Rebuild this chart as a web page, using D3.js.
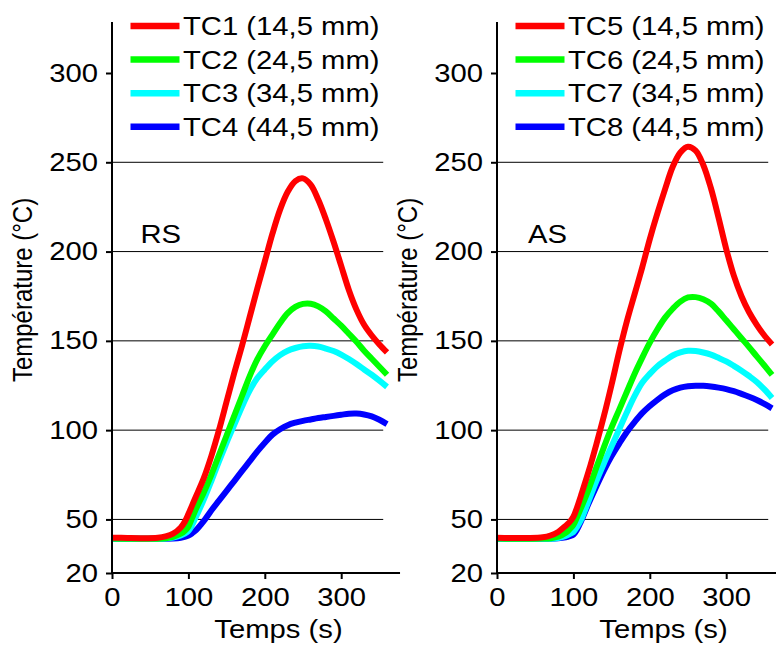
<!DOCTYPE html>
<html>
<head>
<meta charset="utf-8">
<script src="https://cdn.jsdelivr.net/npm/d3@7"></script>
<style>
  html, body { margin: 0; padding: 0; background: #fff; }
  svg { display: block; }
</style>
</head>
<body>
<svg id="chart" width="776" height="646"></svg>
<script>
// ---------------- data ----------------
const times = [0, 20, 40, 60, 70, 80, 90, 95, 100, 105, 110,
  120, 130, 140, 150, 160, 170, 180, 190, 200, 210, 220, 230, 240, 250,
  260, 270, 280, 290, 300, 310, 320, 330, 340, 350, 360];

// RS side
const tc1 = [39.8, 39.6, 39.5, 39.8, 40.5, 42, 45.5, 48.5, 53, 58, 63,
  73, 85.5, 100, 116, 132, 147, 163, 179, 194.5, 210, 223.5, 233.5, 239.5, 241,
  237.5, 229, 218, 205.5, 192, 178.5, 167.5, 159, 153, 148, 143.5];
const tc2 = [39.3, 39.2, 39.2, 39.2, 39.5, 40.3, 42, 43.5, 46, 51, 56,
  65, 75, 86, 97, 108, 119, 130, 139.5, 147, 153.5, 160, 165.5, 169, 170.7,
  170.8, 169.3, 166.5, 162.5, 158.5, 154, 149.5, 144.5, 140, 135.5, 131];
const tc3 = [39.2, 39.2, 39.2, 39.2, 39.3, 39.8, 41, 42, 43.5, 47, 51.5,
  61, 71.5, 82.5, 93, 103, 113, 122, 129, 134, 138.5, 142, 144.5, 146, 147,
  147.2, 146.8, 145.7, 144.3, 142.3, 139.8, 137, 134, 131, 127.7, 124.2];
const tc4 = [39.2, 39.2, 39.2, 39.2, 39.2, 39.3, 39.7, 40.2, 41, 42.3, 44,
  49, 55, 60.5, 66, 71.5, 77, 82.5, 88, 93, 97.5, 100.5, 102.8, 104.2, 105.2,
  106, 106.8, 107.4, 108, 108.6, 109.2, 109.3, 108.8, 107.7, 105.8, 103.4];

// AS side
const tc5 = [39.8, 39.6, 39.6, 40, 41, 43, 46.5, 48.5, 51.5, 57, 63.5,
  77, 92, 108, 125.5, 144, 161, 176, 191, 207, 221.5, 235, 247.5, 255.5, 258.7,
  256.5, 248.5, 235.5, 219, 201.5, 186.5, 175, 166, 159, 153, 148];
const tc6 = [39.3, 39.2, 39.2, 39.3, 39.5, 40.3, 42.5, 44.5, 47, 51.5, 56.5,
  67, 79, 90.5, 101.5, 111.5, 121.5, 131.5, 140.5, 149, 156.5, 163, 168, 172, 174.3,
  174.5, 173.3, 170.8, 166.5, 161.5, 156.5, 151.5, 146.5, 141.3, 136.2, 131];
const tc7 = [39.2, 39.2, 39.2, 39.2, 39.2, 39.6, 40.8, 41.8, 43, 46, 49.8,
  60.5, 71.5, 81.5, 91, 100.5, 110, 119, 126.5, 131.5, 135.8, 139, 141.8, 143.5, 144.4,
  144.3, 143.5, 142.3, 140.5, 138.5, 136, 133.3, 130.3, 127, 122.8, 118];
const tc8 = [39.2, 39.2, 39.2, 39.2, 39.2, 39.4, 40, 40.6, 41.5, 44.5, 49,
  59, 68.5, 77.5, 85.5, 92.5, 99, 104.5, 109.5, 113.5, 117, 120, 122.3, 123.8, 124.6,
  124.9, 124.8, 124.4, 123.8, 123, 121.8, 120.3, 118.7, 116.9, 114.7, 112.2];

const legendLeft = ["TC1 (14,5 mm)", "TC2 (24,5 mm)", "TC3 (34,5 mm)", "TC4 (44,5 mm)"];
const legendRight = ["TC5 (14,5 mm)", "TC6 (24,5 mm)", "TC7 (34,5 mm)", "TC8 (44,5 mm)"];
const panelTags = ["RS", "AS"];
const colors = ["#ff0000", "#00ff00", "#00ffff", "#0000ff"];
const yTicks = [20, 50, 100, 150, 200, 250, 300];
const xTicks = [0, 100, 200, 300];
const gridValues = [50, 100, 150, 200, 250];
const yTitle = "Température (°C)";
const xTitle = "Temps (s)";

// ---------------- drawing ----------------
const FONT = "'Liberation Sans', Arial, Helvetica, sans-serif";
const FS = 25;      // font size
const SX = 1.17;    // horizontal text stretch seen in the reference

const svg = d3.select("#chart");

const y = d3.scaleLinear().domain([20, 300]).range([573, 73]);

function stretchedText(parent, x, yy, str, anchor, size, rotate) {
  const g = parent.append("g")
    .attr("transform", `translate(${x},${yy}) scale(${SX},1)` + (rotate ? " rotate(-90)" : ""));
  g.append("text")
    .attr("x", 0).attr("y", 0)
    .attr("text-anchor", anchor)
    .attr("font-family", FONT)
    .attr("font-size", size)
    .attr("fill", "#000")
    .text(str);
  return g;
}

const panels = [
  { origin: 112, series: [tc1, tc2, tc3, tc4], labels: legendLeft, tag: panelTags[0], tagDx: 28.5, axisEnd: 377 },
  { origin: 497, series: [tc5, tc6, tc7, tc8], labels: legendRight, tag: panelTags[1], tagDx: 31, axisEnd: 377 }
];

panels.forEach(p => {
  const x = d3.scaleLinear().domain([0, 360]).range([p.origin, p.origin + 360 * 0.764]);
  const g = svg.append("g");

  // gridlines
  g.append("g").selectAll("line").data(gridValues).join("line")
    .attr("x1", x(0)).attr("x2", x(355))
    .attr("y1", d => y(d)).attr("y2", d => y(d))
    .attr("stroke", "#000").attr("stroke-width", 1);

  // curves (deepest thermocouple first so the red one lies on top)
  const line = d3.line()
    .x((d, i) => x(times[i]))
    .y(d => y(d))
    .curve(d3.curveCatmullRom.alpha(0.5));
  for (let k = p.series.length - 1; k >= 0; k--) {
    g.append("path")
      .datum(p.series[k])
      .attr("d", line)
      .attr("fill", "none")
      .attr("stroke", colors[k])
      .attr("stroke-width", 6);
  }

  // y axis
  const yAxis = g.append("g")
    .attr("transform", `translate(${p.origin},0)`)
    .call(d3.axisLeft(y).tickValues(yTicks).tickSize(6).tickPadding(8).tickSizeOuter(0));
  yAxis.select(".domain").remove();
  yAxis.selectAll(".tick line").attr("stroke", "#000").attr("stroke-width", 2);
  yAxis.selectAll(".tick text")
    .attr("font-family", FONT).attr("font-size", FS).attr("fill", "#000")
    .attr("x", -14 / SX).attr("transform", `scale(${SX},1)`);
  g.append("line")
    .attr("x1", p.origin).attr("x2", p.origin)
    .attr("y1", 22).attr("y2", y(20) + 1)
    .attr("stroke", "#000").attr("stroke-width", 2);

  // x axis
  const xAxis = g.append("g")
    .attr("transform", `translate(0,${y(20)})`)
    .call(d3.axisBottom(x).tickValues(xTicks).tickSize(6).tickPadding(9).tickSizeOuter(0));
  xAxis.select(".domain").remove();
  xAxis.selectAll(".tick line").attr("stroke", "#000").attr("stroke-width", 2);
  xAxis.selectAll(".tick text")
    .attr("font-family", FONT).attr("font-size", FS).attr("fill", "#000")
    .attr("x", 0)
    .attr("transform", `scale(${SX},1)`);
  g.append("line")
    .attr("x1", p.origin - 1).attr("x2", x(p.axisEnd))
    .attr("y1", y(20)).attr("y2", y(20))
    .attr("stroke", "#000").attr("stroke-width", 2);

  // axis titles
  stretchedText(g, p.origin - 80, 290, yTitle, "middle", 24, true);
  stretchedText(g, p.origin + 166.5, 638, xTitle, "middle", FS, false);

  // panel tag
  stretchedText(g, p.origin + p.tagDx, 243, p.tag, "start", FS, false);

  // legend
  p.labels.forEach((lab, i) => {
    const ly = 26 + i * 33.6;
    g.append("line")
      .attr("x1", p.origin + 18.5).attr("x2", p.origin + 67.5)
      .attr("y1", ly).attr("y2", ly)
      .attr("stroke", colors[i]).attr("stroke-width", 6.5);
    stretchedText(g, p.origin + 71, ly + 9, lab, "start", FS, false);
  });
});
</script>
</body>
</html>
